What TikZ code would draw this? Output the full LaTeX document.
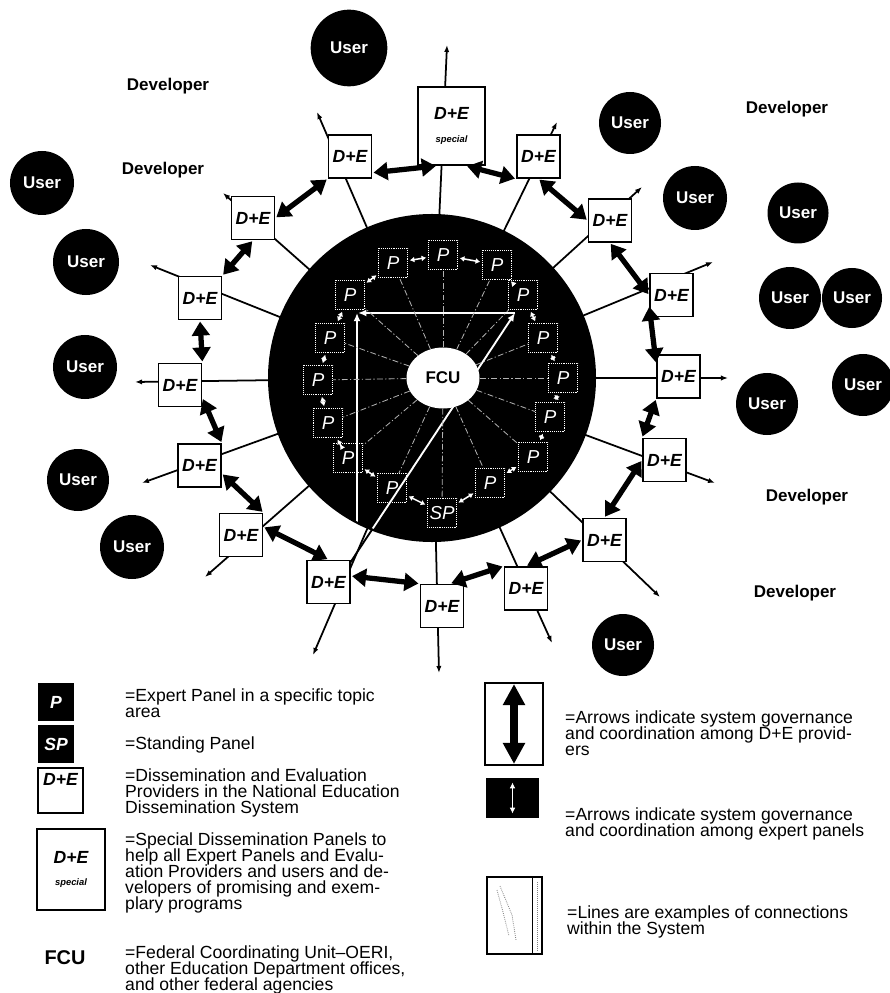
\documentclass[tikz,border=0pt]{standalone}
\usepackage{fontspec}
\setmainfont{Liberation Sans}
\usepackage{tikz}
\usetikzlibrary{arrows.meta,positioning,calc,shapes.geometric}
\lineskiplimit=-10pt

\begin{document}
\begin{tikzpicture}[
    x=0.03cm, y=-0.03cm,
    debox/.style={draw, line width=1.5pt, fill=white, minimum size=1.29cm, inner sep=0pt, font=\fontsize{15}{16}\selectfont\bfseries\itshape},
    specbox/.style={debox, minimum width=2.01cm, minimum height=2.34cm, align=center},
    panel/.style={draw=white, densely dotted, line width=0.6pt, fill=black, minimum size=0.88cm, inner sep=0pt, text=white, font=\fontsize{16}{16}\selectfont\itshape},
    user/.style={circle, fill=black, inner sep=0pt, text=white, font=\fontsize{14.5}{15}\selectfont\bfseries},
    devlabel/.style={font=\fontsize{14.5}{15}\selectfont\bfseries},
    spoke/.style={line width=1.5pt, -{Latex[length=6pt,width=4.5pt]}},
    dearrow/.style={line width=4.5pt, {Triangle[length=12pt,width=15pt]}-{Triangle[length=12pt,width=15pt]}, shorten <=1pt, shorten >=1pt},
    parrow/.style={white, line width=1.3pt, {Latex[length=4pt,width=5pt]}-{Latex[length=4pt,width=5pt]}, shorten <=1.5pt, shorten >=1.5pt},
    ray/.style={gray!60, line width=0.7pt, dash pattern=on 5pt off 2pt on 1pt off 2pt},
    wline/.style={white, line width=1.6pt, -{Latex[length=7pt,width=6pt]}},
    legtext/.style={anchor=north west, inner sep=0pt, align=left, font=\fontsize{15}{13.6}\selectfont}
]
    \useasboundingbox (0,0) rectangle (889,993);

    % Spokes from the hub out past every D+E provider
    \coordinate (hub) at (432,378);
    \foreach \tx/\ty [count=\i] in {447/45, 557/122, 642/187, 713/262, 728/378, 715/483, 660/597, 552/643, 439/673, 313/655, 205/577, 142/483, 135/382, 150/265, 223/193, 317/112}
        \coordinate (t\i) at (\tx,\ty);
    \foreach \i in {1,...,16}
        \draw[spoke] (hub) -- (t\i);

    % Diagonal connection down to a D+E provider
    \coordinate (dlow) at (350,563);
    \coordinate (hr) at (515,313);
    \coordinate (corner) at (357,313);
    \coordinate (vbot) at (357,560);
    \draw[line width=1.6pt] (dlow) -- (hr);

    % The system disk with its expert panels
    \fill[black] (hub) circle[radius=4.92cm];
    \foreach \px/\py/\pn in {443/255/p1, 497/265/p2, 523/295/p3, 543/338/p4, 563/378/p5, 550/417/p6, 533/457/p7, 490/483/p8, 392/488/p9, 348/458/p10, 328/423/p11, 318/380/p12, 330/338/p13, 350/295/p14, 393/263/p15}
        \node[panel] (\pn) at (\px,\py) {P};
    \node[panel] (sp) at (442,513) {SP};

    % White connection lines inside the disk
    \begin{scope}
        \clip (hub) circle[radius=4.85cm];
        \draw[wline] (dlow) -- (hr);
        \draw[wline] (vbot) -- (corner);
        \draw[wline, shorten >=1pt] (hr) -- (corner);
    \end{scope}

    % FCU in the middle
    \node[ellipse, fill=white, minimum width=2.19cm, minimum height=1.83cm, inner sep=0pt, font=\fontsize{14.5}{15}\selectfont\bfseries] (fcu) at (443,378) {FCU};
    \foreach \n in {1,...,15}
        \draw[ray] (fcu) -- (p\n);
    \draw[ray] (fcu) -- (sp);

    % Coordination among expert panels
    \foreach \a/\b in {p1/p2, p2/p3, p3/p4, p4/p5, p5/p6, p6/p7, p7/p8, p8/sp, sp/p9, p9/p10, p10/p11, p11/p12, p12/p13, p13/p14, p14/p15, p15/p1}
        \draw[parrow] (\a) -- (\b);

    % D+E providers around the disk
    \node[specbox] (despec) at (451.5,126) {D+E\\[3pt]{\fontsize{8}{8}\selectfont special}};
    \foreach \dx/\dy [count=\i] in {538.5/156.5, 610/220.5, 671.5/295, 678.5/376.5, 664.5/460, 604.5/540, 526/588.5, 442/606, 328.5/582, 241/535, 199.5/465.5, 180/385, 200/298, 253/218, 350/156.5}
        \node[debox] (de\i) at (\dx,\dy) {D+E};

    % Governance arrows among D+E providers
    \foreach \a/\b in {de15.-36/despec.-110, despec.-70/de1.south west, de1.south/de2.west, de2.south/de3.west, de3.205/de4.150, de4.south west/de5.north west, de5.west/de6.north, de6.west/de7.north, de7.north west/de8.70, de8.north west/de9.15, de9.north/de10.20, de10.north east/de11.-20, de11.north east/de12.-30, de12.north east/de13.south, de13.north east/de14.south, de14.east/de15.south west}
        \draw[dearrow] (\a) -- (\b);

    % Users
    \foreach \ux/\uy/\ud [count=\i] in {349/48/2.3, 42/183/1.92, 86/262/1.98, 85/367/1.92, 78/480/1.86, 132/547/1.92, 630/123/1.86, 695/198/1.92, 798/213/1.83, 790/298/1.86, 852/298/1.8, 863/385/1.86, 767/404/1.86, 623/645/1.86}
        \node[user, minimum size=\ud cm] (user\i) at (\ux,\uy) {User};

    % Developers
    \node[devlabel] (dev1) at (168,86) {Developer};
    \node[devlabel] (dev2) at (163,170) {Developer};
    \node[devlabel] (dev3) at (787,109) {Developer};
    \node[devlabel] (dev4) at (807,497) {Developer};
    \node[devlabel] (dev5) at (795,593) {Developer};

    % Legend - left column
    \node[fill=black, minimum width=1.08cm, minimum height=1.14cm, inner sep=0pt, text=white, font=\fontsize{15}{15}\selectfont\bfseries\itshape] (legp) at (56,702) {P};
    \node[fill=black, minimum width=1.08cm, minimum height=1.14cm, inner sep=0pt, text=white, font=\fontsize{15}{15}\selectfont\bfseries\itshape] (legsp) at (56,744) {SP};
    \node[debox, minimum size=1.35cm] (legde) at (60.5,790.5) {};
    \node[font=\fontsize{15}{15}\selectfont\bfseries\itshape, inner sep=0pt, below=5pt of legde.north] (legdetxt) {D+E};
    \node[specbox, minimum width=2.04cm, minimum height=2.43cm] (legspec) at (71,869.5) {D+E\\[3pt]{\fontsize{8}{8}\selectfont special}};
    \node[font=\fontsize{17}{17}\selectfont\bfseries] (legfcu) at (65,958) {FCU};

    \node[legtext] (txtp) at (125,688.5) {=Expert Panel in a specific topic\\area};
    \node[legtext] (txtsp) at (125,736.5) {=Standing Panel};
    \node[legtext] (txtde) at (125,768.5) {=Dissemination and Evaluation\\Providers in the National Education\\Dissemination System};
    \node[legtext] (txtspec) at (125,832.5) {=Special Dissemination Panels to\\help all Expert Panels and Evalu-\\ation Providers and users and de-\\velopers of promising and exem-\\plary programs};
    \node[legtext] (txtfcu) at (125,945.5) {=Federal Coordinating Unit--OERI,\\other Education Department offices,\\and other federal agencies};

    % Legend - right column
    \node[draw, line width=1.2pt, minimum width=1.74cm, minimum height=2.46cm] (legarr) at (514,724) {};
    \draw[line width=6.5pt, {Triangle[length=18pt,width=18pt]}-{Triangle[length=18pt,width=18pt]}, shorten <=1.5pt, shorten >=1.5pt] (legarr.north) -- (legarr.south);
    \node[fill=black, minimum width=1.59cm, minimum height=1.2cm] (legparr) at (512.5,798) {};
    \draw[white, line width=1.4pt, {Latex[length=5pt,width=5pt]}-{Latex[length=5pt,width=5pt]}, shorten <=4pt, shorten >=4pt] (legparr.north) -- (legparr.south);
    \node[draw, line width=1pt, minimum width=1.65cm, minimum height=2.31cm] (leglines) at (514.5,915.5) {};
    \draw[line width=0.8pt] ([xshift=-0.3cm]leglines.north east) -- ([xshift=-0.3cm]leglines.south east);
    \draw[gray, densely dotted, line width=0.7pt] (497,890) -- (503,912) -- (509,936);
    \draw[gray, densely dotted, line width=0.7pt] (500,886) -- (512,915) -- (516,940);
    \draw[gray, densely dotted, line width=0.7pt] (537,882) -- (537,950);

    \node[legtext] (txtarr) at (565,710.5) {=Arrows indicate system governance\\and coordination among D+E provid-\\ers};
    \node[legtext] (txtparr) at (565,807.5) {=Arrows indicate system governance\\and coordination among expert panels};
    \node[legtext] (txtlines) at (567,905.5) {=Lines are examples of connections\\within the System};
\end{tikzpicture}
\end{document}
